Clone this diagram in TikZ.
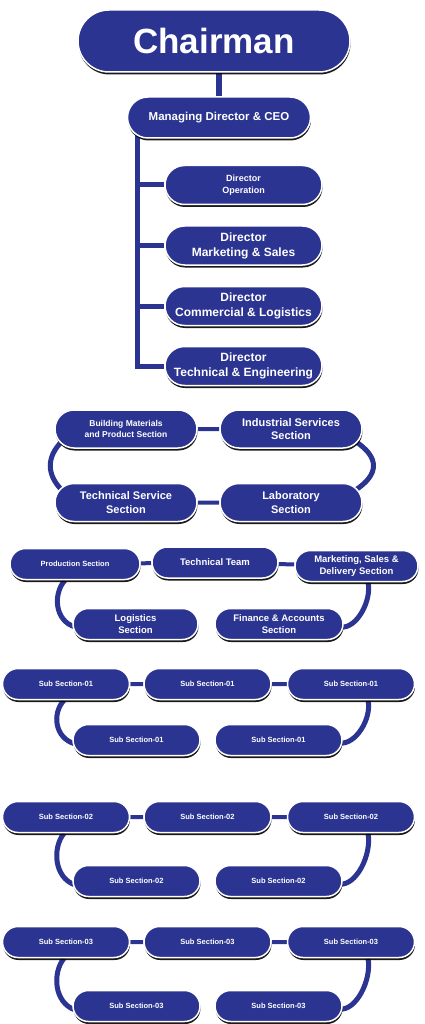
\documentclass[tikz,border=0pt]{standalone}
\usepackage{fontspec}
\setmainfont{Liberation Sans}
\usetikzlibrary{shapes.misc,shadows,backgrounds}
\definecolor{orgblue}{RGB}{44,52,145}

\begin{document}
\begin{tikzpicture}[x=1pt,y=-1pt,unit/.style={rounded rectangle,fill=orgblue,draw=white,line width=1.5pt,text=white,align=center,inner sep=0pt,drop shadow={shadow xshift=0.5pt,shadow yshift=-2.5pt,fill=black,opacity=0.9}},chair/.style={unit,minimum width=272pt,minimum height=62pt,font=\fontsize{35}{40}\selectfont\bfseries},head/.style={unit,minimum width=183pt,minimum height=41pt,font=\fontsize{11.5}{14}\selectfont\bfseries},dir/.style={unit,minimum width=157pt,minimum height=39pt,font=\fontsize{12}{15}\selectfont\bfseries},sect/.style={unit,minimum width=142pt,minimum height=38pt,font=\fontsize{11}{13.5}\selectfont\bfseries},part/.style={unit,minimum height=31pt,font=\fontsize{9.5}{11.5}\selectfont\bfseries},sub/.style={unit,minimum width=127pt,minimum height=31pt,font=\fontsize{7.5}{9}\selectfont\bfseries},link/.style={draw=orgblue,line width=5pt},tie/.style={draw=orgblue,line width=4pt}]
\useasboundingbox (0,0) rectangle (425,1024);
\node[chair] (chairman) at (214,41) {Chairman};
\node[head] (mdceo) at (219,117.5) {Managing Director \& CEO};
\node[dir,font=\fontsize{9}{11.5}\selectfont\bfseries] (dirop) at (243.5,185) {Director\\Operation};
\node[dir] (dirms) at (243.5,245.5) {Director\\Marketing \& Sales};
\node[dir] (dircl) at (243.5,306) {Director\\Commercial \& Logistics};
\node[dir] (dirte) at (243.5,366) {Director\\Technical \& Engineering};
\node[sect,font=\fontsize{8.5}{11}\selectfont\bfseries] (bldg) at (126,429) {Building Materials\\and Product Section};
\node[sect] (indus) at (291,429) {Industrial Services\\Section};
\node[sect] (techsv) at (126,502.5) {Technical Service\\Section};
\node[sect] (lab) at (291,502.5) {Laboratory\\Section};
\node[part,minimum width=130pt,font=\fontsize{7.5}{9}\selectfont\bfseries] (prod) at (75,564) {Production Section};
\node[part,minimum width=126pt] (team) at (215,562.5) {Technical Team};
\node[part,minimum width=123pt] (mkt) at (356.5,566) {Marketing, Sales \&\\Delivery Section};
\node[part,minimum width=125pt] (logis) at (135.5,624) {Logistics\\Section};
\node[part,minimum width=128pt] (fin) at (279,624) {Finance \& Accounts\\Section};
\node[sub] (s01a) at (66,684) {Sub Section-01};
\node[sub] (s01b) at (207.5,684) {Sub Section-01};
\node[sub] (s01c) at (351,684) {Sub Section-01};
\node[sub] (s01d) at (136.5,740) {Sub Section-01};
\node[sub] (s01e) at (278.5,740) {Sub Section-01};
\node[sub] (s02a) at (66,817) {Sub Section-02};
\node[sub] (s02b) at (207.5,817) {Sub Section-02};
\node[sub] (s02c) at (351,817) {Sub Section-02};
\node[sub] (s02d) at (136.5,881) {Sub Section-02};
\node[sub] (s02e) at (278.5,881) {Sub Section-02};
\node[sub] (s03a) at (66,942) {Sub Section-03};
\node[sub] (s03b) at (207.5,942) {Sub Section-03};
\node[sub] (s03c) at (351,942) {Sub Section-03};
\node[sub] (s03d) at (136.5,1006) {Sub Section-03};
\node[sub] (s03e) at (278.5,1006) {Sub Section-03};
\begin{pgfonlayer}{background}
% chairman and directors
\draw[link,line width=6pt] (mdceo.north) -- (mdceo.north |- chairman.south);
\draw[link] ([xshift=11pt]mdceo.west) |- (dirop.west);
\draw[link] ([xshift=11pt]mdceo.west) |- (dirms.west);
\draw[link] ([xshift=11pt]mdceo.west) |- (dircl.west);
\draw[link] ([xshift=11pt]mdceo.west) |- (dirte.west);
% sections
\draw[tie] (bldg) -- (indus);
\draw[tie] (techsv) -- (lab);
\draw[link] ([shift={(8,12)}]bldg.west) .. controls +(-16,16) and +(-16,-16) .. ([shift={(8,-12)}]techsv.west);
\draw[link] ([shift={(-8,12)}]indus.east) .. controls +(25,16) and +(25,-16) .. ([shift={(-8,-12)}]lab.east);
\draw[tie] (prod) -- (team);
\draw[tie] (team) -- (mkt);
\draw[link] ([xshift=-10pt]prod.south) .. controls +(-12,13) and +(-21,-6) .. ([shift={(3,3)}]logis.west);
\draw[link] ([xshift=11.5pt]mkt.south) .. controls +(4,18) and +(16,2) .. ([shift={(-3,3)}]fin.east);
% sub sections
\draw[tie] (s01a) -- (s01b);
\draw[tie] (s01b) -- (s01c);
\draw[link] ([xshift=-2pt]s01a.south) .. controls +(-12,13) and +(-21,-6) .. ([shift={(3,4)}]s01d.west);
\draw[link] ([xshift=17pt]s01c.south) .. controls +(4,18) and +(16,2) .. ([shift={(-3,3)}]s01e.east);
\draw[tie] (s02a) -- (s02b);
\draw[tie] (s02b) -- (s02c);
\draw[link] ([xshift=-2pt]s02a.south) .. controls +(-12,15) and +(-21,-7) .. ([shift={(3,4)}]s02d.west);
\draw[link] ([xshift=17pt]s02c.south) .. controls +(4,22) and +(16,2) .. ([shift={(-3,3)}]s02e.east);
\draw[tie] (s03a) -- (s03b);
\draw[tie] (s03b) -- (s03c);
\draw[link] ([xshift=-2pt]s03a.south) .. controls +(-12,15) and +(-21,-7) .. ([shift={(3,4)}]s03d.west);
\draw[link] ([xshift=17pt]s03c.south) .. controls +(4,22) and +(16,2) .. ([shift={(-3,3)}]s03e.east);
\end{pgfonlayer}
\end{tikzpicture}
\end{document}
